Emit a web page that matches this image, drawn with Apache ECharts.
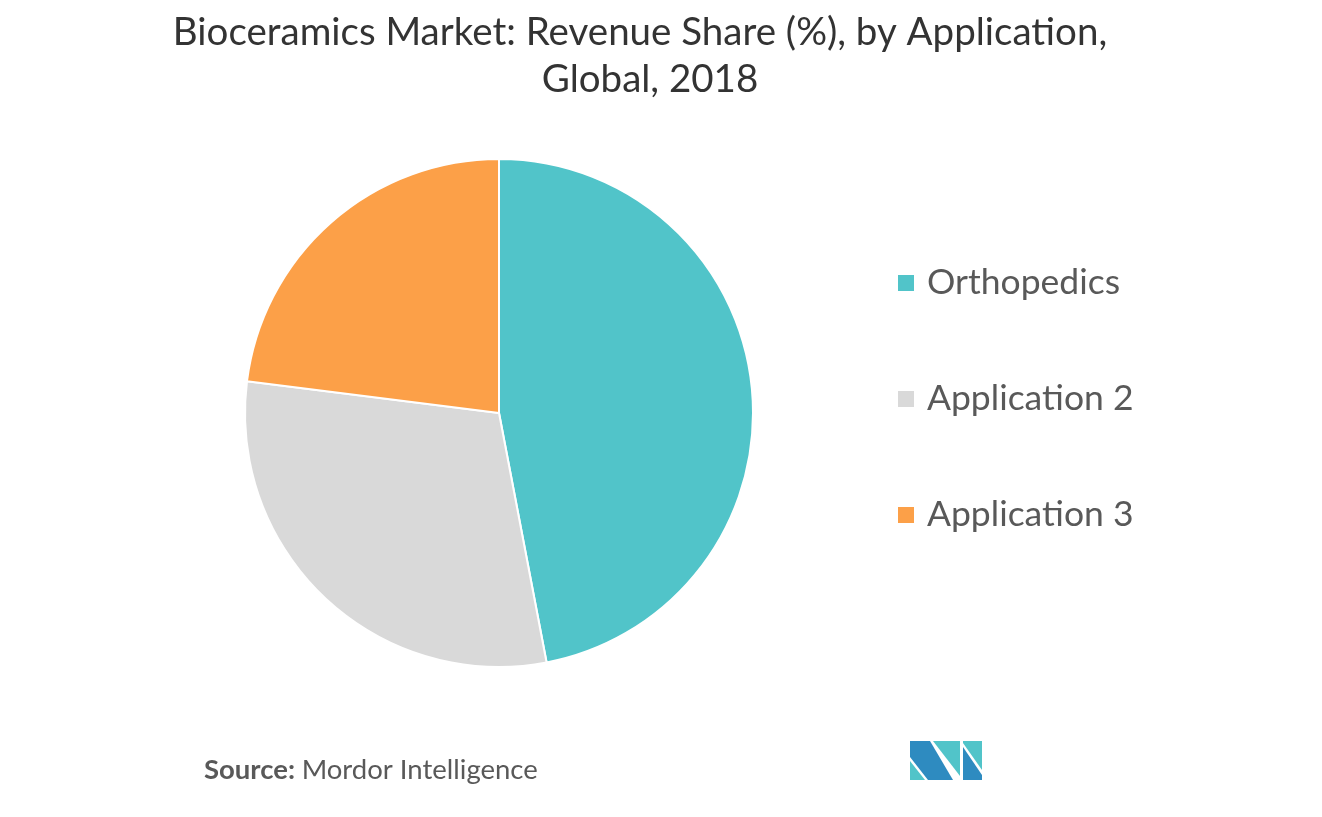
<!DOCTYPE html>
<html>
<head>
<meta charset="utf-8">
<script src="https://cdn.jsdelivr.net/npm/echarts@6/dist/echarts.min.js"></script>
<style>
html,body{margin:0;padding:0;background:#fff;}
#chart{width:1322px;height:817px;}
</style>
</head>
<body>
<div id="chart"></div>
<script>
const titleLines = ['Bioceramics Market: Revenue Share (%), by Application,', 'Global, 2018'];
const categories = ['Orthopedics', 'Application 2', 'Application 3'];
const values = [47, 30, 23];
const colors = ['#51C4C9', '#D9D9D9', '#FCA048'];

const titleStyle = { fontFamily: 'Lato', fontSize: 38.5, fill: '#333333', align: 'center', verticalAlign: 'middle' };

const chart = echarts.init(document.getElementById('chart'));
chart.setOption({
  backgroundColor: '#ffffff',
  animation: false,
  legend: {
    orient: 'vertical',
    left: 891,
    top: 260,
    itemWidth: 18,
    itemHeight: 18,
    itemGap: 80,
    icon: 'rect',
    textStyle: { fontFamily: 'Lato', fontSize: 35.5, color: '#595959', lineHeight: 36, padding: [0, 0, 0, 7] },
    data: categories
  },
  series: [{
    type: 'pie',
    center: [499, 413],
    radius: 254,
    startAngle: 90,
    clockwise: true,
    label: { show: false },
    labelLine: { show: false },
    itemStyle: { borderColor: '#ffffff', borderWidth: 2 },
    data: categories.map((c, i) => ({ name: c, value: values[i], itemStyle: { color: colors[i] } }))
  }],
  graphic: [
    { type: 'text', x: 640, y: 33, style: Object.assign({ text: titleLines[0] }, titleStyle) },
    { type: 'text', x: 650, y: 80, style: Object.assign({ text: titleLines[1] }, titleStyle) },
    {
      type: 'text', left: 204, top: 756,
      style: {
        text: '{b|Source:}  {n|Mordor Intelligence}',
        rich: {
          b: { fontFamily: 'Lato', fontSize: 27.5, fontWeight: 'bold', fill: '#595959' },
          n: { fontFamily: 'Lato', fontSize: 27.5, fill: '#595959' }
        }
      }
    },
    { type: 'polygon', shape: { points: [[910,761],[910,780],[925,780]] }, style: { fill: '#51C4C9' } },
    { type: 'polygon', shape: { points: [[910,741],[930,741],[953,780],[928,780],[910,757]] }, style: { fill: '#2E8BC0' } },
    { type: 'polygon', shape: { points: [[933,741],[960,741],[960,776]] }, style: { fill: '#51C4C9' } },
    { type: 'polygon', shape: { points: [[963,741],[982,741],[982,770],[963,743]] }, style: { fill: '#51C4C9' } },
    { type: 'polygon', shape: { points: [[963,747],[982,775],[982,780],[963,780]] }, style: { fill: '#2E8BC0' } }
  ]
});
</script>
</body>
</html>
